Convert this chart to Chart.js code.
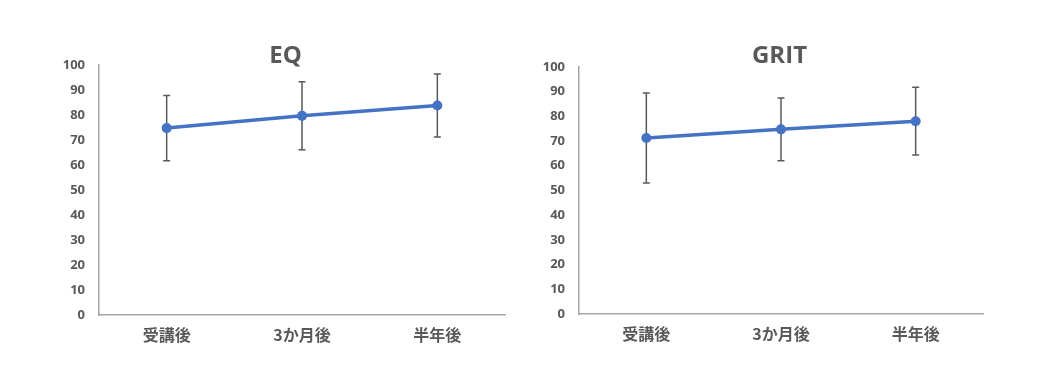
<!DOCTYPE html>
<html>
<head>
<meta charset="utf-8">
<script src="https://cdn.jsdelivr.net/npm/chart.js@4"></script>
<style>
  html, body { margin: 0; padding: 0; background: #fff; }
  .wrap { position: absolute; top: 0; width: 520px; height: 392px; }
</style>
</head>
<body>
<div class="wrap" style="left:0"><canvas id="eqChart" width="520" height="392"></canvas></div>
<div class="wrap" style="left:520px"><canvas id="gritChart" width="520" height="392"></canvas></div>
<script>
const categories = ['受講後', '3か月後', '半年後'];
const yTicks = [0, 10, 20, 30, 40, 50, 60, 70, 80, 90, 100];

const eqMean = [74.7, 79.6, 83.7];
const eqSd = [13.0, 13.6, 12.6];

const gritMean = [71.2, 74.7, 78.0];
const gritSd = [18.2, 12.7, 13.7];

const textGray = '#595959';

// draws mean ± sd whiskers behind the line
const errorBars = {
    id: 'errorBars',
    beforeDatasetsDraw(chart, args, opts) {
        const ctx = chart.ctx;
        const x = chart.scales.x;
        const y = chart.scales.y;
        const mean = chart.data.datasets[0].data;
        ctx.save();
        ctx.strokeStyle = opts.color;
        ctx.lineWidth = 1.5;
        mean.forEach((m, i) => {
            const px = x.getPixelForValue(i);
            const top = y.getPixelForValue(m + opts.sd[i]);
            const bot = y.getPixelForValue(m - opts.sd[i]);
            ctx.beginPath();
            ctx.moveTo(px, top); ctx.lineTo(px, bot);
            ctx.moveTo(px - 3.5, top); ctx.lineTo(px + 3.5, top);
            ctx.moveTo(px - 3.5, bot); ctx.lineTo(px + 3.5, bot);
            ctx.stroke();
        });
        ctx.restore();
    }
};

function makeChart(id, title, mean, sd, lay) {
    const ctx = document.getElementById(id).getContext('2d');
    return new Chart(ctx, {
        type: 'line',
        data: {
            labels: categories,
            datasets: [{
                data: mean,
                borderColor: '#4472C4',
                backgroundColor: '#4472C4',
                borderWidth: 3.5,
                pointRadius: 5,
                pointBorderWidth: 0,
                tension: 0
            }]
        },
        options: {
            responsive: false,
            animation: false,
            layout: { padding: { left: lay.left, right: lay.right, top: 0, bottom: 0 } },
            plugins: {
                legend: { display: false },
                tooltip: { enabled: false },
                title: {
                    display: true,
                    text: title,
                    color: textGray,
                    font: { family: 'Open Sans', size: 24, weight: 'bold', lineHeight: 1.2 },
                    padding: { top: lay.titleTop, bottom: lay.titleBottom }
                },
                errorBars: { sd: sd, color: textGray }
            },
            scales: {
                x: {
                    offset: true,
                    grid: { display: false, drawTicks: false },
                    border: { color: '#a6a6a6', width: 1.5 },
                    ticks: {
                        color: textGray,
                        padding: 10,
                        maxRotation: 0,
                        font: { family: 'Noto Sans CJK JP', size: 16, weight: 'bold' }
                    },
                    afterFit(scale) { scale.height = lay.xHeight; }
                },
                y: {
                    min: 0,
                    max: 100,
                    afterBuildTicks(scale) { scale.ticks = yTicks.map(v => ({ value: v })); },
                    grid: { display: false, drawTicks: false },
                    border: { color: '#a6a6a6', width: 1.5 },
                    ticks: {
                        color: textGray,
                        padding: 14,
                        font: { family: 'Open Sans', size: 13, weight: 'bold' }
                    },
                    afterFit(scale) { scale.width = lay.yWidth; }
                },
                spacer: {
                    type: 'linear',
                    position: 'right',
                    display: true,
                    grid: { display: false, drawTicks: false },
                    border: { display: false },
                    ticks: { display: false },
                    afterFit(scale) { scale.width = lay.spacer; }
                }
            }
        },
        plugins: [errorBars]
    });
}

makeChart('eqChart', 'EQ', eqMean, eqSd,
    { left: 56, right: 5, yWidth: 43, spacer: 10, titleTop: 42, titleBottom: -6, xHeight: 77 });
makeChart('gritChart', 'GRIT', gritMean, gritSd,
    { left: 20, right: 21, yWidth: 39, spacer: 36, titleTop: 42, titleBottom: -4, xHeight: 78 });
</script>
</body>
</html>
